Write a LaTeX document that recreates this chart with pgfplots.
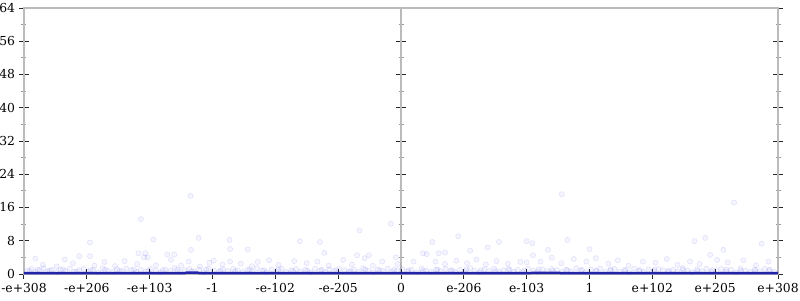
\documentclass[border=0pt]{standalone}
\usepackage{fontspec}
\setmainfont{DejaVu Serif}
\usepackage{pgfplots}
\pgfplotsset{compat=1.18}
\definecolor{axgray}{RGB}{187,187,187}
\definecolor{linecol}{RGB}{35,35,165}
\definecolor{ptcol}{RGB}{50,50,230}
\pgfplotsset{
  common/.style={
    at={(0,0)}, anchor=south west, scale only axis, width=754bp, height=266bp,
    ymin=0, ymax=64, ytick={0,8,...,64}, minor y tick num=1,
    tick align=center,
    major tick length=10bp, minor tick length=5bp,
    major tick style={black!85, line width=1bp},
    minor tick style={black!40, line width=1bp},
    tick label style={font=\fontsize{12.4}{14}\selectfont},
    /pgf/number format/assume math mode=true,
  }
}
\begin{document}
\begin{tikzpicture}[x=1bp,y=1bp]
\path[use as bounding box] (-24,-26) rectangle (776,274);
% middle axis
\begin{axis}[common,
  xmin=-6, xmax=6,
  axis x line=none, axis y line=center,
  yticklabels={},
  axis line style={axgray, line width=1.5bp, -},
  every inner y axis line/.append style={-},
]
\end{axis}
\begin{axis}[common, name=main,
  xmin=0, xmax=12,
  axis line style={axgray, line width=1.5bp},
  xtick={0,...,12},
  xticklabels={-e+308,-e+206,-e+103,-1,-e-102,-e-205,0,e-206,e-103,1,e+102,e+205,e+308},
  xtick pos=left, ytick pos=both,
  yticklabel style={xshift=-0.5bp},
  xticklabel style={yshift=-1bp},
]
\addplot[only marks, mark=*, mark size=2.6bp,
  mark options={draw=ptcol, fill=ptcol, draw opacity=0.16, fill opacity=0.05}]
coordinates {
(0.05,0.8)(0.12,1.2)(0.18,0.5)(0.25,0.9)(0.31,1.4)(0.37,0.6)(0.44,1.0)(0.52,0.4)(0.58,1.1)(0.66,0.7)(0.73,1.3)(0.80,0.5)(0.88,0.9)(0.95,1.2)(1.02,0.6)(1.10,1.0)(1.18,0.4)(1.25,1.4)(1.33,0.8)(1.41,0.5)(1.48,1.1)(1.56,0.7)(1.63,1.3)(1.71,0.9)(1.79,0.5)(1.86,1.0)(1.94,0.6)(2.02,1.2)(2.10,0.8)(2.17,0.4)(2.25,1.1)(2.33,0.7)(2.40,1.4)(2.48,0.5)(2.56,0.9)(2.63,1.2)(2.71,0.6)(2.79,1.0)(2.86,0.4)(2.94,1.3)(3.02,0.8)(3.10,0.5)(3.17,1.1)(3.25,0.7)(3.33,1.2)(3.40,0.9)(3.48,0.5)(3.56,1.0)(3.63,0.6)(3.71,1.4)(3.79,0.8)(3.86,0.4)(3.94,1.1)(4.02,0.7)(4.10,1.3)(4.17,0.5)(4.25,0.9)(4.33,1.2)(4.40,0.6)(4.48,1.0)(4.56,0.4)(4.63,1.3)(4.71,0.8)(4.79,0.5)(4.86,1.1)(4.94,0.7)(5.02,1.2)(5.10,0.9)(5.17,0.5)(5.25,1.0)(5.33,0.6)(5.40,1.4)(5.48,0.8)(5.56,0.4)(5.63,1.1)(5.71,0.7)(5.79,1.3)(5.86,0.5)(5.94,0.9)(6.02,1.2)(6.10,0.6)(6.17,1.0)(6.25,0.4)(6.33,1.3)(6.40,0.8)(6.48,0.5)(6.56,1.1)(6.63,0.7)(6.71,1.2)(6.79,0.9)(6.86,0.5)(6.94,1.0)(7.02,0.6)(7.10,1.4)(7.17,0.8)(7.25,0.4)(7.33,1.1)(7.40,0.7)(7.48,1.3)(7.56,0.5)(7.63,0.9)(7.71,1.2)(7.79,0.6)(7.86,1.0)(7.94,0.4)(8.02,1.3)(8.10,0.8)(8.17,0.5)(8.25,1.1)(8.33,0.7)(8.40,1.2)(8.48,0.9)(8.56,0.5)(8.63,1.0)(8.71,0.6)(8.79,1.4)(8.86,0.8)(8.94,0.4)(9.02,1.1)(9.10,0.7)(9.17,1.3)(9.25,0.5)(9.33,0.9)(9.40,1.2)(9.48,0.6)(9.56,1.0)(9.63,0.4)(9.71,1.3)(9.79,0.8)(9.86,0.5)(9.94,1.1)(10.02,0.7)(10.10,1.2)(10.17,0.9)(10.25,0.5)(10.33,1.0)(10.40,0.6)(10.48,1.4)(10.56,0.8)(10.63,0.4)(10.71,1.1)(10.79,0.7)(10.86,1.3)(10.94,0.5)(11.02,0.9)(11.10,1.2)(11.17,0.6)(11.25,1.0)(11.33,0.4)(11.40,1.3)(11.48,0.8)(11.56,0.5)(11.63,1.1)(11.71,0.7)(11.79,1.2)(11.86,0.9)(11.94,0.5)
(0.09,0.7)(0.22,1.0)(0.41,0.8)(0.62,1.1)(0.84,0.6)(1.06,0.9)(1.29,1.0)(1.52,0.7)(1.75,1.1)(1.98,0.8)(2.21,0.9)(2.44,1.0)(2.67,0.7)(2.90,1.1)(3.13,0.8)(3.36,0.6)(3.59,1.0)(3.82,0.9)(4.05,1.1)(4.28,0.7)(4.51,0.8)(4.74,1.0)(4.97,0.9)(5.20,0.7)(5.43,1.1)(5.66,0.8)(5.89,1.0)(6.12,0.9)(6.35,0.7)(6.58,1.0)(6.81,0.8)(7.04,1.1)(7.27,0.9)(7.50,0.7)(7.73,1.0)(7.96,0.8)(8.19,1.1)(8.42,0.7)(8.65,0.9)(8.88,1.0)(9.11,0.8)(9.34,1.1)(9.57,0.7)(9.80,0.9)(10.03,1.0)(10.26,0.8)(10.49,1.1)(10.72,0.7)(10.95,0.9)(11.18,1.0)(11.41,0.8)(11.64,0.7)(11.87,1.0)
(0.18,3.7)(0.30,2.2)(0.52,1.8)(0.65,3.5)(0.78,2.6)(1.05,4.3)(1.12,2.0)(1.28,2.9)(1.45,1.9)(1.60,3.1)(1.80,2.4)(1.93,5.0)(1.97,4.0)(2.10,2.1)(2.28,4.7)(2.34,3.4)(2.50,2.0)(2.62,3.0)(2.80,1.8)(2.95,2.7)(3.02,3.2)(3.16,2.3)(3.28,3.0)(3.45,2.5)(3.63,1.9)(3.72,2.9)(3.90,3.3)(4.05,2.2)(4.30,3.1)(4.50,2.6)(4.67,3.0)(4.85,2.0)(5.08,3.4)(5.22,2.3)(5.30,4.5)(5.42,3.8)(5.55,2.0)(5.70,3.0)(5.95,2.4)(6.20,3.0)(6.35,5.0)(6.41,4.8)(6.55,3.0)(6.70,2.4)(6.88,3.2)(7.05,2.6)(7.20,3.5)(7.35,2.3)(7.52,3.1)(7.70,2.5)(7.90,2.9)(8.00,2.8)(8.10,4.5)(8.22,3.0)(8.40,3.9)(8.55,2.6)(8.75,3.6)(8.95,3.0)(9.10,3.8)(9.30,2.5)(9.45,3.3)(9.62,2.0)(9.85,3.0)(10.05,2.7)(10.23,3.6)(10.40,2.2)(10.60,3.0)(10.75,2.4)(10.92,4.6)(11.03,3.4)(11.20,2.8)(11.45,3.3)(11.65,2.1)(11.85,3.0)
(1.86,13.2)(1.05,7.6)(2.06,8.3)(0.88,4.3)(1.82,5.0)(1.91,4.0)
(2.65,18.8)(2.78,8.7)(3.27,8.2)(2.66,5.8)(3.28,6.0)(3.56,5.9)(2.39,4.7)
(5.84,12.1)(5.34,10.5)(4.39,7.9)(4.71,7.7)(4.78,5.1)(5.49,4.5)(5.92,4.0)
(6.91,9.1)(6.50,7.7)(7.56,7.7)(8.00,7.9)(7.10,5.6)(7.38,6.4)(6.70,5.2)(6.60,5.0)
(8.56,19.2)(8.65,8.2)(9.00,6.0)(8.34,5.8)(8.09,7.4)
(11.30,17.2)(10.84,8.7)(10.67,7.9)(11.74,7.3)(11.13,5.8)
};
\addplot[linecol, line width=2.5bp, no marks] coordinates {
(0,0.2)(2.55,0.2)(2.60,0.35)(2.75,0.35)(2.80,0.2)(8.05,0.2)(8.10,0.3)(8.50,0.3)(8.55,0.2)(12,0.2)
};
\end{axis}
\end{tikzpicture}
\end{document}
